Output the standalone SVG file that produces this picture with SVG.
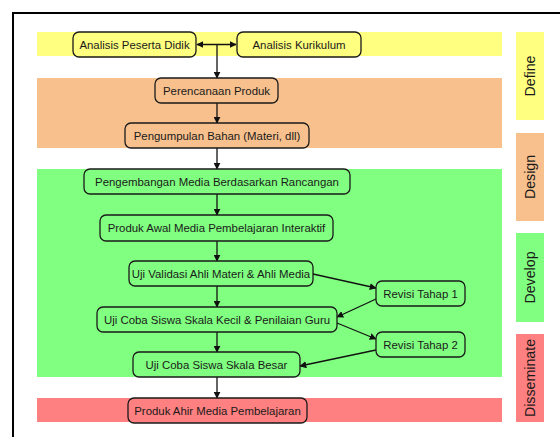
<svg xmlns="http://www.w3.org/2000/svg" width="560" height="437" viewBox="0 0 560 437">
<style>
text{font-family:"Liberation Sans",Arial,sans-serif;font-size:11.4px;fill:#1a1a1a;text-anchor:middle;dominant-baseline:central}
.n{stroke:#1a1a1a;stroke-width:1.3}
.y{fill:#ffff80}.o{fill:#f7c08c}.g{fill:#80ff80}.r{fill:#ff8080}
.side{font-size:14.2px}
.c{stroke:#111;stroke-width:1.3;fill:none}
</style>
<defs>
<marker id="a" viewBox="0 0 10 10" refX="9" refY="5" markerWidth="7" markerHeight="7" orient="auto-start-reverse" markerUnits="userSpaceOnUse">
<path d="M0,0 L10,5 L0,10 z" fill="#111"/>
</marker>
</defs>
<rect width="560" height="437" fill="#fff"/>
<path d="M13,437 V13 H560" fill="none" stroke="#000" stroke-width="2"/>
<g id="bands">
<rect class="y" x="37" y="32" width="465" height="24"/>
<rect class="o" x="37" y="78" width="465" height="70"/>
<rect class="g" x="37" y="169" width="465" height="208"/>
<rect class="r" x="37" y="398" width="465" height="24"/>
</g>
<g id="phase-define"><rect class="y" x="516" y="32" width="28" height="88"/><text class="side" transform="translate(530,76) rotate(-90)">Define</text></g>
<g id="phase-design"><rect class="o" x="516" y="133" width="28" height="88"/><text class="side" transform="translate(530,177) rotate(-90)">Design</text></g>
<g id="phase-develop"><rect class="g" x="516" y="233" width="28" height="89"/><text class="side" transform="translate(530,277.5) rotate(-90)">Develop</text></g>
<g id="phase-disseminate"><rect class="r" x="516" y="334" width="28" height="88"/><text class="side" transform="translate(530,378) rotate(-90)">Disseminate</text></g>
<g id="connectors">
<line class="c" x1="197" y1="44.5" x2="236" y2="44.5" marker-start="url(#a)" marker-end="url(#a)"/>
<line class="c" x1="217" y1="44.5" x2="217" y2="78" marker-end="url(#a)"/>
<line class="c" x1="217" y1="103" x2="217" y2="123" marker-end="url(#a)"/>
<line class="c" x1="217" y1="148" x2="217" y2="169" marker-end="url(#a)"/>
<line class="c" x1="217" y1="194" x2="217" y2="215" marker-end="url(#a)"/>
<line class="c" x1="217" y1="241" x2="217" y2="261" marker-end="url(#a)"/>
<line class="c" x1="217" y1="286" x2="217" y2="307" marker-end="url(#a)"/>
<line class="c" x1="217" y1="332" x2="217" y2="352" marker-end="url(#a)"/>
<line class="c" x1="217" y1="377" x2="217" y2="398" marker-end="url(#a)"/>
<line class="c" x1="313" y1="274" x2="376" y2="288" marker-end="url(#a)"/>
<line class="c" x1="376" y1="299" x2="337" y2="317" marker-end="url(#a)"/>
<line class="c" x1="337" y1="323" x2="376" y2="339" marker-end="url(#a)"/>
<line class="c" x1="376" y1="350" x2="300" y2="366" marker-end="url(#a)"/>
</g>
<g id="n1"><rect class="n y" x="73" y="32" width="123" height="25" rx="6"/><text x="134.5" y="44.5">Analisis Peserta Didik</text></g>
<g id="n2"><rect class="n y" x="237" y="32" width="124" height="25" rx="6"/><text x="299" y="44.5">Analisis Kurikulum</text></g>
<g id="n3"><rect class="n o" x="155" y="78" width="123" height="25" rx="6"/><text x="216.5" y="90.5">Perencanaan Produk</text></g>
<g id="n4"><rect class="n o" x="125" y="123" width="184" height="25" rx="6"/><text x="217" y="135.5">Pengumpulan Bahan (Materi, dll)</text></g>
<g id="n5"><rect class="n g" x="84" y="169" width="266" height="25" rx="6"/><text x="217" y="181.5">Pengembangan Media Berdasarkan Rancangan</text></g>
<g id="n6"><rect class="n g" x="100" y="215" width="233" height="26" rx="6"/><text x="216.5" y="228">Produk Awal Media Pembelajaran Interaktif</text></g>
<g id="n7"><rect class="n g" x="129" y="261" width="184" height="25" rx="6"/><text x="221" y="273.5">Uji Validasi Ahli Materi &amp; Ahli Media</text></g>
<g id="n8"><rect class="n g" x="376" y="281" width="89" height="25" rx="6"/><text x="420.5" y="293.5">Revisi Tahap 1</text></g>
<g id="n9"><rect class="n g" x="97" y="307" width="240" height="25" rx="6"/><text x="217" y="319.5">Uji Coba Siswa Skala Kecil &amp; Penilaian Guru</text></g>
<g id="n10"><rect class="n g" x="376" y="332" width="89" height="25" rx="6"/><text x="420.5" y="344.5">Revisi Tahap 2</text></g>
<g id="n11"><rect class="n g" x="133" y="352" width="167" height="25" rx="6"/><text x="216.5" y="364.5">Uji Coba Siswa Skala Besar</text></g>
<g id="n12"><rect class="n r" x="128" y="398" width="179" height="25" rx="6"/><text x="217.5" y="410.5">Produk Ahir Media Pembelajaran</text></g>
</svg>
